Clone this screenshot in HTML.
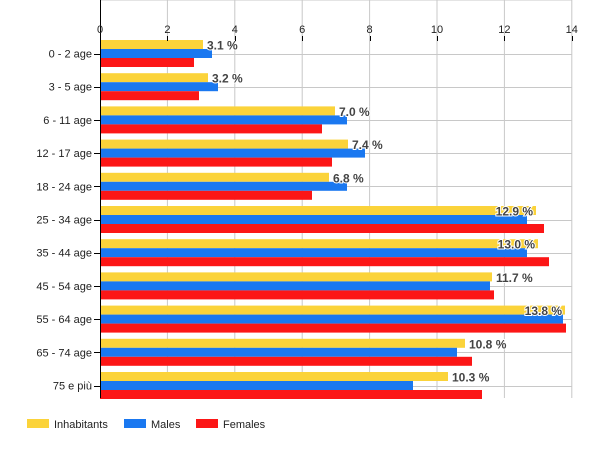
<!DOCTYPE html>
<html><head><meta charset="utf-8"><style>body{margin:0;background:#fff}svg{display:block}text{font-family:"Liberation Sans",Arial,sans-serif}</style></head>
<body>
<svg width="600" height="450" xmlns="http://www.w3.org/2000/svg">
<g id="grid" stroke="#c8c8c8" stroke-width="1"></g>
<g id="bars"></g>
<g id="fg"></g>
<g font-size="11" fill="#222">
<rect x="27" y="419" width="22" height="9" fill="#fbd33a"/><text x="54" y="428">Inhabitants</text>
<rect x="124" y="419" width="22" height="9" fill="#1a78f0"/><text x="151" y="428">Males</text>
<rect x="196" y="419" width="22" height="9" fill="#fc1616"/><text x="223" y="428">Females</text>
</g>
<script>
var NS="http://www.w3.org/2000/svg";
function el(p,t,a,txt){var e=document.createElementNS(NS,t);for(var k in a)e.setAttribute(k,a[k]);if(txt!=null)e.textContent=txt;p.appendChild(e);return e;}
var x0=100,u=33.7,top=40,sp=33.2,c0=53.5,bottom=398;
var g=document.getElementById('grid'),b=document.getElementById('bars'),f=document.getElementById('fg');
var cats=["0 - 2 age","3 - 5 age","6 - 11 age","12 - 17 age","18 - 24 age","25 - 34 age","35 - 44 age","45 - 54 age","55 - 64 age","65 - 74 age","75 e più"];
var Y=[203,208,335,348,329,536,538,492,565,465,448];
var B=[212,218,347,365,347,527,527,490,563,457,413];
var R=[194,199,322,332,312,544,549,494,566,472,482];
var L=["3.1 %","3.2 %","7.0 %","7.4 %","6.8 %","12.9 %","13.0 %","11.7 %","13.8 %","10.8 %","10.3 %"];
for(var i=1;i<=7;i++){var x=x0+i*2*u;el(g,'line',{x1:x,y1:top,x2:x,y2:bottom});}
el(g,'line',{x1:x0,y1:top+0.5,x2:x0+14*u,y2:top+0.5});
for(var i=0;i<11;i++){var c=Math.round(c0+i*sp)+0.5;el(g,'line',{x1:x0,y1:c,x2:x0+14*u,y2:c});}
for(var i=0;i<11;i++){var c=c0+i*sp;
el(b,'rect',{x:x0,y:c-13.5,width:Y[i]-x0,height:9,fill:'#fbd33a'});
el(b,'rect',{x:x0,y:c-4.5,width:B[i]-x0,height:9,fill:'#1a78f0'});
el(b,'rect',{x:x0,y:c+4.5,width:R[i]-x0,height:9,fill:'#fc1616'});
el(f,'text',{x:92,y:c+4,'font-size':11,'text-anchor':'end',fill:'#222'},cats[i]);
el(f,'line',{x1:94,y1:Math.round(c)+0.5,x2:100,y2:Math.round(c)+0.5,stroke:'#000'});
var inside=(i==5||i==6||i==8);
el(f,'text',{x:inside?Y[i]-3:Y[i]+4,y:c-4,'font-size':12,'font-weight':'bold','text-anchor':inside?'end':'start',fill:'#444',stroke:'#fff','stroke-width':2,'paint-order':'stroke'},L[i]);
}
el(f,'line',{x1:x0+0.5,y1:top,x2:x0+0.5,y2:bottom,stroke:'#000'});
for(var i=0;i<=7;i++){var x=x0+i*2*u;el(f,'text',{x:x,y:33,'font-size':11,'text-anchor':'middle',fill:'#222'},String(i*2));el(f,'line',{x1:Math.round(x)+0.5,y1:36,x2:Math.round(x)+0.5,y2:41,stroke:'#000'});}
</script>
</svg>
</body></html>
